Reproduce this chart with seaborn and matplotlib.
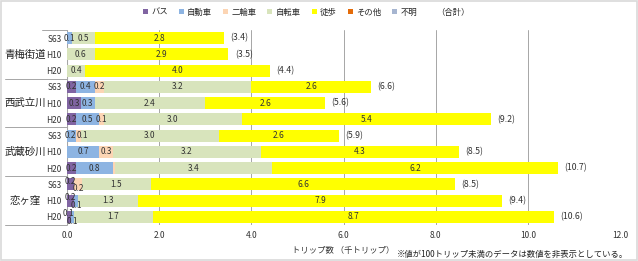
import matplotlib as mpl
import matplotlib.pyplot as plt
import numpy as np
import pandas as pd
import seaborn as sns
from matplotlib.patches import Patch, Rectangle
from matplotlib.lines import Line2D

sns.set_theme(style="white")
mpl.rcParams.update(
    {
        "font.family": ["Noto Sans CJK JP", "DejaVu Sans"],
        "font.size": 6,
        "axes.unicode_minus": False,
    }
)

# ---- data (千トリップ) ----
GROUPS = ["青梅街道", "西武立川", "武蔵砂川", "恋ヶ窪"]
YEARS = ["S63", "H10", "H20"]
SERIES = ["バス", "自動車", "二輪車", "自転車", "徒歩", "その他", "不明"]
COLORS = ["#8064A2", "#8DB4E2", "#FCD5B4", "#D8E4BC", "#FFFF00", "#E46C0A", "#A6B5D0"]

bus = [0.0, 0.0, 0.0, 0.2, 0.3, 0.2, 0.0, 0.0, 0.2, 0.16, 0.16, 0.08]
car = [0.1, 0.0, 0.0, 0.4, 0.3, 0.5, 0.2, 0.7, 0.8, 0.0, 0.08, 0.08]
moto = [0.0, 0.0, 0.0, 0.2, 0.0, 0.1, 0.1, 0.3, 0.05, 0.16, 0.0, 0.0]
bicycle = [0.5, 0.6, 0.4, 3.2, 2.4, 3.0, 3.0, 3.2, 3.4, 1.5, 1.3, 1.7]
walk = [2.8, 2.9, 4.0, 2.6, 2.6, 5.4, 2.6, 4.3, 6.2, 6.6, 7.9, 8.7]
other = [0.0] * 12
unknown = [0.0] * 12
totals = [3.4, 3.5, 4.4, 6.6, 5.6, 9.2, 5.9, 8.5, 10.7, 8.5, 9.4, 10.6]

values = np.array([bus, car, moto, bicycle, walk, other, unknown])
rows = [f"{g}_{y}" for g in GROUPS for y in YEARS]
cum = values.cumsum(axis=0)

# label nudges for tiny crowded segments (row, series) -> (dx, dy)
NUDGE = {(9, 0): (0, -0.2), (9, 2): (0, 0.28), (10, 0): (0, -0.2), (10, 1): (0, 0.28),
         (11, 0): (0, -0.2), (11, 1): (0, 0.28), (6, 1): (-0.03, 0), (6, 2): (0.09, 0)}

fig = plt.figure(figsize=(6.38, 2.61), dpi=100)
ax = fig.add_axes([0.105, 0.138, 0.867, 0.747])

for i in range(len(SERIES) - 1, -1, -1):
    df = pd.DataFrame({"row": rows, "cum": cum[i]})
    sns.barplot(data=df, x="cum", y="row", order=rows, orient="h", color=COLORS[i],
                saturation=1, width=0.75, errorbar=None, linewidth=0, ax=ax)

# segment labels
for r in range(len(rows)):
    for i in range(len(SERIES)):
        v = values[i, r]
        if v < 0.075:
            continue
        dx, dy = NUDGE.get((r, i), (0.0, 0.0))
        xc = cum[i, r] - v / 2 + dx
        ax.text(xc, r + dy, f"{v:.1f}", ha="center", va="center",
                fontsize=6, color="#333333")
    ax.text(cum[-1, r] + 0.14, r, f"({totals[r]:.1f})", ha="left", va="center",
            fontsize=6.3, style="italic", color="#333333")

ax.set_xlim(0, 12)
ax.set_ylim(11.5, -0.5)
ax.set_xticks(np.arange(0, 12.1, 2))
ax.set_xticklabels([f"{t:.1f}" for t in np.arange(0, 12.1, 2)], fontsize=6, color="#333333")
ax.set_yticks(range(len(rows)))
ax.set_yticklabels(YEARS * len(GROUPS), fontsize=6, color="#333333")
ax.tick_params(axis="both", length=0, pad=4)
ax.set_ylabel("")
ax.set_xlabel("トリップ数 （千トリップ）", fontsize=6, color="#333333", labelpad=5)
ax.grid(axis="x", color="#A6A6A6", linewidth=0.7)
ax.set_axisbelow(True)
for s in ["top", "right", "bottom", "left"]:
    ax.spines[s].set_visible(False)
ax.axvline(0, color="#A6A6A6", linewidth=0.8, zorder=0)

# group labels and separators in the left margin
tr = mpl.transforms.blended_transform_factory(ax.transAxes, ax.transData)
for g, name in enumerate(GROUPS):
    ax.text(-0.076, g * 3 + 1, name, transform=tr, ha="center", va="center",
            fontsize=7.5, color="#222222")
for yb in [2.5, 5.5, 8.5, 11.5]:
    ax.add_line(Line2D([-0.112, 0], [yb, yb], transform=tr, color="#A6A6A6",
                       linewidth=0.7, clip_on=False))
ax.add_line(Line2D([-0.045, 0], [-0.5, -0.5], transform=tr, color="#A6A6A6",
                   linewidth=0.7, clip_on=False))

# legend
handles = [Patch(facecolor=c, edgecolor="none") for c in COLORS]
handles.append(Patch(facecolor="none", edgecolor="none"))
leg = fig.legend(handles, SERIES + ["（合計）"], loc="center", bbox_to_anchor=(0.48, 0.953),
                 ncol=8, frameon=False, fontsize=6, handlelength=0.6, handleheight=0.6,
                 handletextpad=0.4, columnspacing=1.3)
leg.get_texts()[-1].set_style("italic")

fig.text(0.985, 0.025, "※値が100トリップ未満のデータは数値を非表示としている。",
         ha="right", va="center", fontsize=6, color="#222222")

fig.patches.append(Rectangle((0.002, 0.004), 0.996, 0.992, transform=fig.transFigure,
                             fill=False, edgecolor="#D9D9D9", linewidth=1.2))

fig.savefig("out.png", dpi=100)
